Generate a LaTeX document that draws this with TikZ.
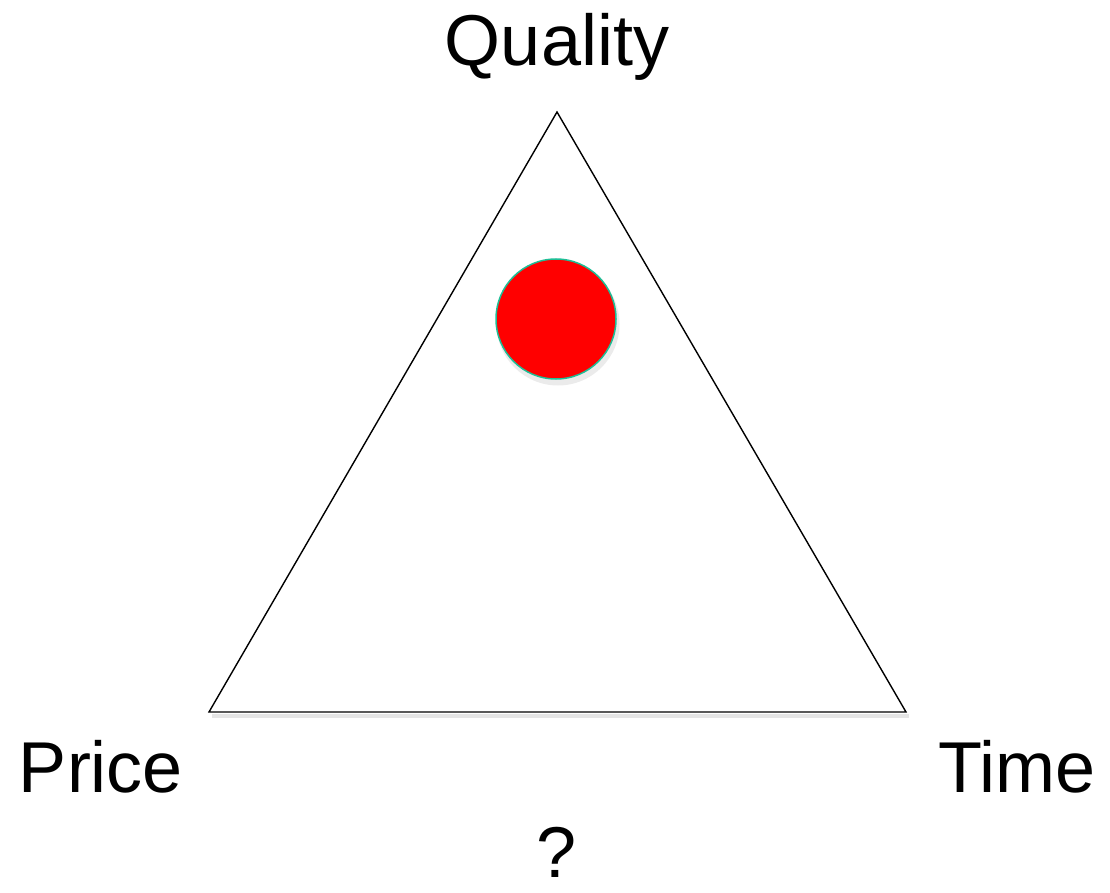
\documentclass[tikz,border=0pt]{standalone}
\usepackage{fontspec}
\setmainfont{Liberation Sans}
\usepackage{xcolor}
\usetikzlibrary{positioning,calc}
\definecolor{dotred}{RGB}{255,0,0}
\definecolor{dotrim}{RGB}{30,190,150}
\tikzset{
  lbl/.style   ={font=\fontsize{72}{80}\selectfont, inner sep=0pt, anchor=base},
  tri/.style   ={draw=black, line width=1.4pt, line join=miter},
  trishade/.style={draw=black!10, line width=4pt},
  dot/.style   ={draw=dotrim, fill=dotred, circle, line width=1.5pt, minimum size=120pt, inner sep=0pt},
  dotshade/.style={fill=black!8, circle, minimum size=123pt, inner sep=0pt},
}
\begin{document}
\begin{tikzpicture}[x=1pt, y=-1pt]
  \useasboundingbox (0,0) rectangle (1110,893);
  % corners of the triangle
  \coordinate (top) at (557,112);
  \coordinate (left) at (209,712);
  \coordinate (right) at (906,712);

  \draw[trishade] ($(left)+(3,4)$) -- ($(right)+(3,4)$);
  \draw[tri] (top) -- (left) -- (right) -- cycle;

  \node[dotshade] (dotsh) at (558,324) {};
  \node[dot] (dot) at (556,319) {};

  \node[lbl] (quality) at (557,66) {Quality};
  \node[lbl] (price) at (101,792) {Price};
  \node[lbl] (time) at (1017,792) {Time};
  \node[lbl] (ask) at (557,877) {?};
\end{tikzpicture}
\end{document}
